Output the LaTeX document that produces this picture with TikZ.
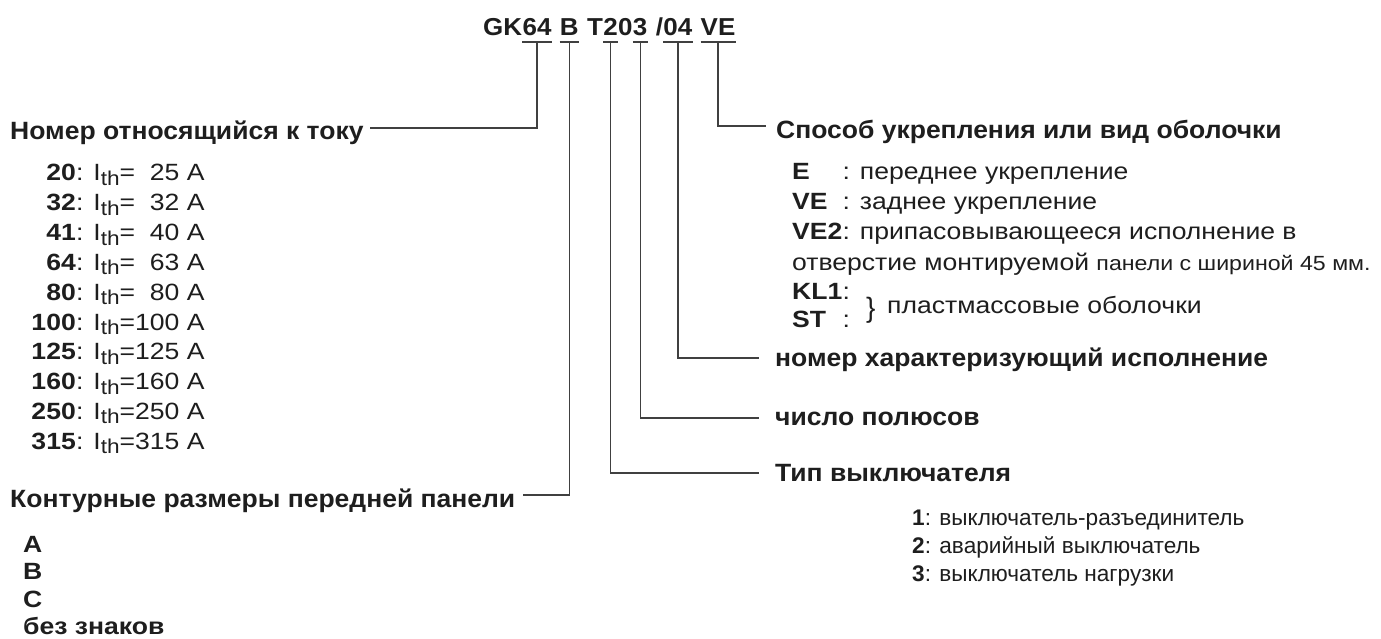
\documentclass[tikz,border=0pt]{standalone}
\usepackage{fontspec}
\setmainfont{Liberation Sans}
\newfontfamily\headfont[FakeStretch=1.06]{Liberation Sans}
\newfontfamily\entryfont[FakeStretch=1.13]{Liberation Sans}
\usetikzlibrary{positioning}
\definecolor{ink}{RGB}{30,30,30}
\definecolor{leader}{RGB}{64,64,64}
\newcommand{\thsub}{\raisebox{-4.5pt}{\fontsize{20}{20}\selectfont th}}
\newcommand{\mkey}[1]{\makebox[50.5pt][l]{\textbf{#1}}}

\begin{document}
\begin{tikzpicture}[x=1pt,y=-1pt,
    codepart/.style={font=\headfont\bfseries\fontsize{24.5}{30}\selectfont,inner xsep=0pt,inner ysep=6.5pt,text depth=0pt,text=ink},
    heading/.style={font=\headfont\bfseries\fontsize{25}{30}\selectfont,inner sep=0pt,anchor=base west,text=ink},
    entry/.style={font=\entryfont\fontsize{23.5}{30}\selectfont,inner sep=0pt,anchor=base west,text=ink},
    bentry/.style={entry,font=\entryfont\bfseries\fontsize{23.5}{30}\selectfont},
    typeentry/.style={entry,font=\fontsize{22.6}{30}\selectfont},
    lead/.style={draw=leader,line width=1.3pt},
    uline/.style={draw=leader,line width=2.6pt}]
  \useasboundingbox (0,0) rectangle (1381,639);

  % type code
  \node[codepart,anchor=base west] (gk) at (483,35.5) {GK};
  \node[codepart,base right=0pt of gk] (p64) {64};
  \node[codepart,base right=8pt of p64] (pB) {B};
  \node[codepart,base right=8pt of pB] (pT) {T};
  \node[codepart,base right=0pt of pT] (p2) {2};
  \node[codepart,base right=0pt of p2] (p0) {0};
  \node[codepart,base right=0pt of p0] (p3) {3};
  \node[codepart,base right=8pt of p3] (pSlash) {/};
  \node[codepart,base right=0pt of pSlash] (p04) {04};
  \node[codepart,base right=8pt of p04] (pVE) {VE};
  \foreach \p in {p64,pB,p2,p3,p04,pVE}
    \draw[uline] (\p.south west) -- (\p.south east);

  % left side
  \node[heading] (hCurrent) at (10,140) {Номер относящийся к току};
  \foreach \num/\val [count=\i from 0] in {20/25,32/32,41/40,64/63,80/80,100/100,125/125,160/160,250/250,315/315}{
    \node[bentry,anchor=base east] (cnum\i) at (76,{181+29.8*\i}) {\num};
    \node[entry,base right=0pt of cnum\i] (cval\i) {: I\thsub=\ifnum\val<100 \hphantom{0}\fi\val~A};
  }
  \node[heading] (hPanel) at (10,507) {Контурные размеры передней панели};
  \foreach \k [count=\i from 0] in {A,B,C,без знаков}
    \node[bentry] (panel\i) at (23,{552+27.6*\i}) {\k};

  % right side
  \node[heading] (hMount) at (776,139) {Способ укрепления или вид оболочки};
  \node[entry] (mE) at (792,180) {\mkey{E}: переднее укрепление};
  \node[entry] (mVE) at (792,210) {\mkey{VE}: заднее укрепление};
  \node[entry] (mVEtwo) at (792,240) {\mkey{VE2}: припасовывающееся исполнение в};
  \node[entry] (mVEcont) at (792,270) {отверстие монтируемой {\fontsize{20.5}{24}\selectfont панели с шириной 45 мм.}};
  \node[entry] (mKL) at (792,299) {\mkey{KL1}:};
  \node[entry] (mST) at (792,327) {\mkey{ST}:};
  \node[entry,font=\fontsize{28}{28}\selectfont] (brace) at (866,317) {\}};
  \node[entry] (mPlastic) at (887,313) {пластмассовые оболочки};

  \node[heading] (hVariant) at (775,366) {номер характеризующий исполнение};
  \node[heading] (hPoles) at (775,425) {число полюсов};
  \node[heading] (hType) at (775,481) {Тип выключателя};
  \foreach \n/\txt in {1/выключатель-разъединитель,2/аварийный выключатель,3/выключатель нагрузки}
    \node[typeentry] (type\n) at (912,{497+28*\n}) {\textbf{\n}: \txt};

  % leaders
  \draw[lead] (p64.south) |- ([xshift=6pt,yshift=12pt]hCurrent.base east);
  \draw[lead] (pB.south) |- ([xshift=7pt,yshift=12pt]hPanel.base east);
  \draw[lead] (pVE.south) |- ([xshift=-10pt,yshift=13pt]hMount.base west);
  \draw[lead] (p04.south) |- ([xshift=-16pt,yshift=8pt]hVariant.base west);
  \draw[lead] (p3.south) |- ([xshift=-16pt,yshift=7pt]hPoles.base west);
  \draw[lead] (p2.south) |- ([xshift=-16pt,yshift=8pt]hType.base west);
\end{tikzpicture}
\end{document}
